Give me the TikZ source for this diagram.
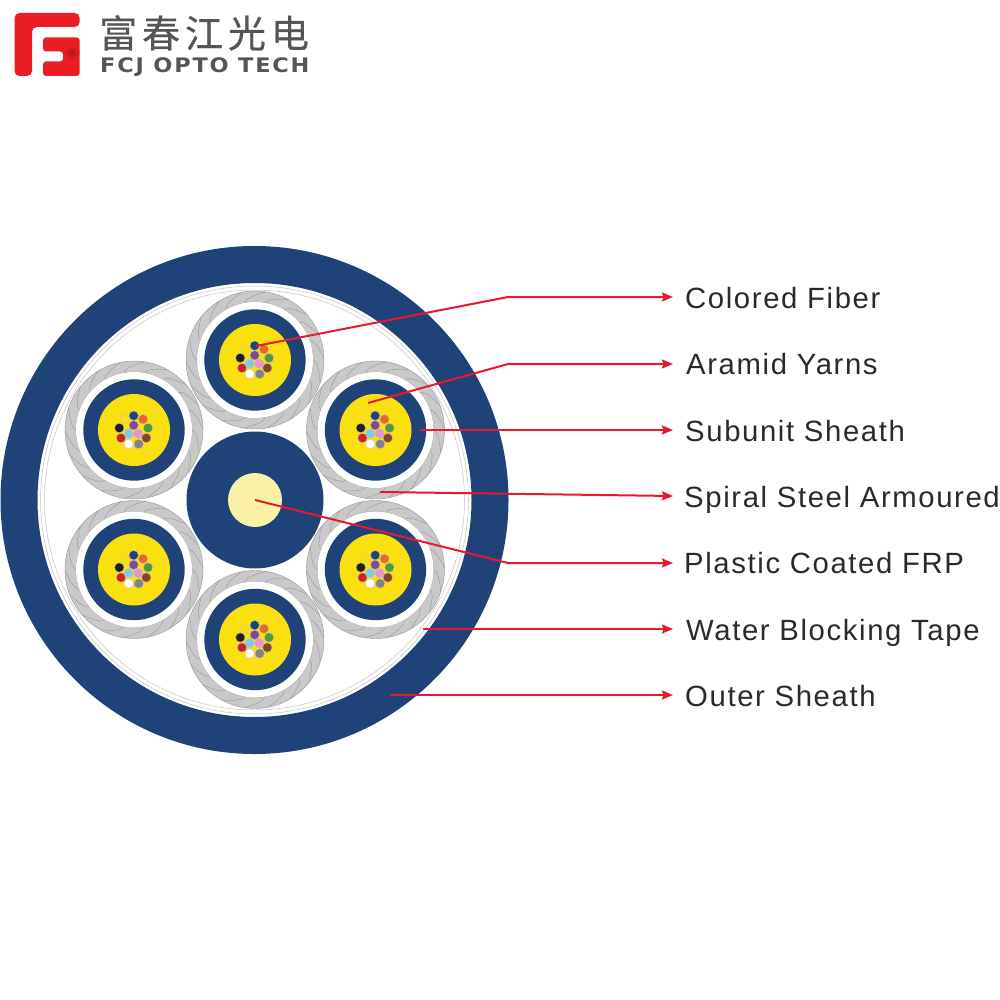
\documentclass[tikz,border=0pt]{standalone}
\usepackage{fontspec}
\usetikzlibrary{arrows.meta}
\setmainfont{Liberation Sans}
\newfontfamily\labelfont[LetterSpace=5.5]{Liberation Sans}
\newfontfamily\cjkfont[LetterSpace=13,FakeBold=0.5]{Noto Sans CJK SC}
\newfontfamily\logofont[LetterSpace=9,FakeStretch=1.12]{DejaVu Sans Bold}
\definecolor{cablenavy}{HTML}{1F4378}
\definecolor{armour}{HTML}{C9C9C9}
\definecolor{armourline}{HTML}{9A9A9A}
\definecolor{jelly}{HTML}{FBE00F}
\definecolor{frp}{HTML}{FBF1A6}
\definecolor{leader}{HTML}{E8192C}
\definecolor{logored}{HTML}{EC1C24}
\definecolor{logodark}{HTML}{B5141B}
\definecolor{logogray}{HTML}{555555}
\definecolor{textdark}{HTML}{2A2A2A}
\definecolor{fborange}{HTML}{E8672A}
\definecolor{fbblack}{HTML}{231F20}
\definecolor{fbpurple}{HTML}{7F4A9D}
\definecolor{fbgreen}{HTML}{4E9A3A}
\definecolor{fbred}{HTML}{CE2029}
\definecolor{fbblue}{HTML}{7CCBEB}
\definecolor{fbpink}{HTML}{E596C4}
\definecolor{fbbrown}{HTML}{8A4425}
\definecolor{fbgray}{HTML}{808285}
\tikzset{
  labeltext/.style={anchor=base west,inner sep=0pt,text=textdark,font=\labelfont\fontsize{29.3}{32}\selectfont},
  leaderline/.style={draw=leader,line width=2pt,-{Stealth[length=11pt,width=9pt,inset=1.5pt]}},
  thinring/.style={draw=armourline!60,line width=0.5pt},
  ropeline/.style={draw=armourline,line width=0.45pt},
  fiberdot/.style={draw=armourline!60,line width=0.3pt},
}
\newcommand{\fiberat}[3]{\fill[#3] (#1,#2) circle[radius=4.7];\draw[fiberdot] (#1,#2) circle[radius=4.7];}
\newcommand{\cableunit}[2]{%
  \begin{scope}[shift={(#1,#2)}]
    \fill[armour] (0,0) circle[radius=69];
    \foreach \a in {0,20,...,340}{
      \draw[ropeline] (\a:58) .. controls (\a+1:62) and (\a+9:65) .. (\a+19:69);
    }
    \draw[ropeline] (0,0) circle[radius=69];
    \draw[ropeline] (0,0) circle[radius=58];
    \fill[white] (0,0) circle[radius=58];
    \fill[cablenavy] (0,0) circle[radius=50.7];
    \fill[jelly] (0,0) circle[radius=36];
    \fiberat{-9.3}{-10.7}{jelly}
    \fiberat{-0.3}{-14.3}{cablenavy}
    \fiberat{9}{-10.7}{fborange}
    \fiberat{-14.7}{-2}{fbblack}
    \fiberat{-0.3}{-4.7}{fbpurple}
    \fiberat{14}{-2}{fbgreen}
    \fiberat{-13}{8}{fbred}
    \fiberat{-5.3}{3.7}{fbblue}
    \fiberat{4.3}{3.7}{fbpink}
    \fiberat{12.3}{8}{fbbrown}
    \fiberat{-5.3}{14}{white}
    \fiberat{4.7}{14}{fbgray}
  \end{scope}%
}
\begin{document}
\begin{tikzpicture}[x=1pt,y=-1pt]
\useasboundingbox (0,0) rectangle (1000,1000);
% logo
\fill[logored,rounded corners=5pt] (14.5,76) -- (14.5,13) -- (79.7,13) -- (79.7,27) -- (32,27) -- (32,76) -- cycle;
\fill[logored,rounded corners=3pt] (43,37.5) -- (79.7,37.5) -- (79.7,76) -- (43,76) -- (43,61.5) -- (63,61.5) -- (63,51.5) -- (43,51.5) -- cycle;
\shade[inner color=logodark,outer color=logored] (71.5,52.5) circle[radius=8];
\node[anchor=base west,inner sep=0pt,text=logogray,font=\cjkfont\fontsize{38}{40}\selectfont] (logocn) at (99,47.5) {富春江光电};
\node[anchor=base west,inner sep=0pt,text=logogray,font=\logofont\fontsize{20}{22}\selectfont] (logoen) at (100,73) {FCJ OPTO TECH};
% cable
\fill[cablenavy,even odd rule] (254.5,500) circle[radius=254] (254.5,500) circle[radius=217];
\draw[thinring] (254.5,500) circle[radius=214];
\draw[thinring] (254.5,500) circle[radius=210];
\cableunit{255}{360}
\cableunit{375.5}{430}
\cableunit{375.5}{569.5}
\cableunit{255}{639.5}
\cableunit{134}{569.5}
\cableunit{134}{430}
\fill[cablenavy] (255,500) circle[radius=68.5];
\fill[frp] (255,500) circle[radius=27];
% connector anchors
\coordinate (cfstart) at (256,346);
\coordinate (cfbend) at (508,297);
\coordinate (cfend) at (673,297);
\coordinate (aystart) at (368,403);
\coordinate (aybend) at (508,364);
\coordinate (ayend) at (673,364);
\coordinate (ssstart) at (420,430);
\coordinate (ssend) at (673,430);
\coordinate (sastart) at (380,492);
\coordinate (saend) at (673,496);
\coordinate (pfstart) at (255,500);
\coordinate (pfbend) at (508,563);
\coordinate (pfend) at (673,563);
\coordinate (wbstart) at (423,629);
\coordinate (wbend) at (673,629);
\coordinate (osstart) at (390,695);
\coordinate (osend) at (673,695);
\draw[leaderline] (cfstart) -- (cfbend) -- (cfend);
\draw[leaderline] (aystart) -- (aybend) -- (ayend);
\draw[leaderline] (ssstart) -- (ssend);
\draw[leaderline] (sastart) -- (saend);
\draw[leaderline] (pfstart) -- (pfbend) -- (pfend);
\draw[leaderline] (wbstart) -- (wbend);
\draw[leaderline] (osstart) -- (osend);
% labels
\node[labeltext] (lcf) at (685,308) {Colored Fiber};
\node[labeltext] (lay) at (686,374) {Aramid Yarns};
\node[labeltext] (lss) at (685,441) {Subunit Sheath};
\node[labeltext] (lsa) at (684,507) {Spiral Steel Armoured};
\node[labeltext] (lpf) at (684,573) {Plastic Coated FRP};
\node[labeltext] (lwb) at (686,640) {Water Blocking Tape};
\node[labeltext] (los) at (685,706) {Outer Sheath};
\end{tikzpicture}
\end{document}
